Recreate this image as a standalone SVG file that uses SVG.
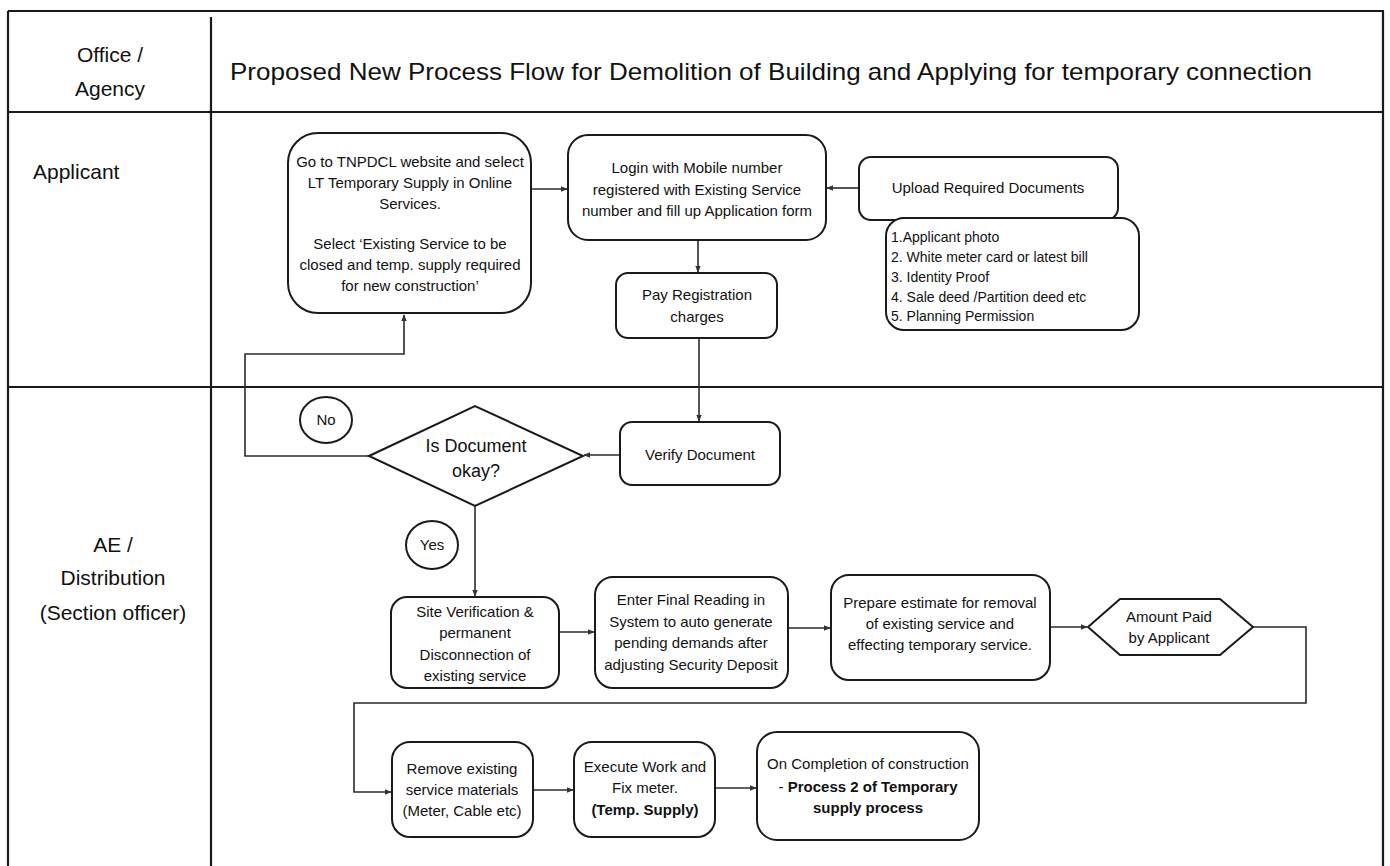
<svg xmlns="http://www.w3.org/2000/svg" width="1390" height="866" viewBox="0 0 1390 866">
<defs>
<style>
.frame{stroke:#1a1a1a;stroke-width:2.2;fill:none}
.box{fill:#fff;stroke:#1a1a1a;stroke-width:2}
.conn{fill:none;stroke:#2a2a2a;stroke-width:1.6}
.t{font-family:"Liberation Sans",Arial,sans-serif;font-size:15px;fill:#111;text-anchor:middle}
.b{font-weight:bold}
.lane{font-family:"Liberation Sans",Arial,sans-serif;font-size:21px;fill:#111;text-anchor:middle}
.doc{font-family:"Liberation Sans",Arial,sans-serif;font-size:14px;fill:#111}
</style>
<marker id="arr" viewBox="0 0 10 10" refX="9" refY="5" markerWidth="7" markerHeight="7" orient="auto" markerUnits="userSpaceOnUse">
<path d="M0,1 L10,5 L0,9 z" fill="#333"/>
</marker>
</defs>
<rect width="1390" height="866" fill="#fff"/>

<g id="frame">
<line class="frame" x1="8" y1="11" x2="1384" y2="11"/>
<line class="frame" x1="8" y1="11" x2="8" y2="866"/>
<line class="frame" x1="1383" y1="11" x2="1383" y2="866"/>
<line class="frame" x1="211" y1="17" x2="211" y2="866"/>
<line class="frame" x1="8" y1="112" x2="1384" y2="112"/>
<line class="frame" x1="8" y1="387" x2="1384" y2="387"/>
<text class="lane" x="110" y="62">Office /</text>
<text class="lane" x="110" y="96">Agency</text>
<text class="lane" x="230" y="80" style="font-size:24px;text-anchor:start" textLength="1082" lengthAdjust="spacingAndGlyphs">Proposed New Process Flow for Demolition of Building and Applying for temporary connection</text>
<text class="lane" x="33" y="179" style="text-anchor:start">Applicant</text>
<text class="lane" x="113" y="552">AE /</text>
<text class="lane" x="113" y="585">Distribution</text>
<text class="lane" x="113" y="620">(Section officer)</text>
</g>

<g id="connectors">
<line class="conn" x1="531" y1="189" x2="567" y2="189" marker-end="url(#arr)"/>
<line class="conn" x1="859" y1="188" x2="827" y2="188" marker-end="url(#arr)"/>
<line class="conn" x1="698" y1="240" x2="698" y2="272" marker-end="url(#arr)"/>
<line class="conn" x1="699" y1="338" x2="699" y2="421" marker-end="url(#arr)"/>
<line class="conn" x1="620" y1="455" x2="584" y2="455" marker-end="url(#arr)"/>
<path class="conn" d="M369,456 H245 V354 H404 V315" marker-end="url(#arr)"/>
<line class="conn" x1="475" y1="506" x2="475" y2="596" marker-end="url(#arr)"/>
<line class="conn" x1="559" y1="632" x2="594" y2="632" marker-end="url(#arr)"/>
<line class="conn" x1="788" y1="628" x2="830" y2="628" marker-end="url(#arr)"/>
<line class="conn" x1="1050" y1="627" x2="1087" y2="627" marker-end="url(#arr)"/>
<path class="conn" d="M1253,627 H1306 V703 H354 V792 H391" marker-end="url(#arr)"/>
<line class="conn" x1="533" y1="790" x2="573" y2="790" marker-end="url(#arr)"/>
<line class="conn" x1="715" y1="788" x2="756" y2="788" marker-end="url(#arr)"/>
</g>

<g id="go-website">
<rect class="box" x="288" y="133" width="243" height="180" rx="30"/>
<text class="t" x="410" y="167">Go to TNPDCL website and select</text>
<text class="t" x="410" y="188">LT Temporary Supply in Online</text>
<text class="t" x="410" y="209">Services.</text>
<text class="t" x="410" y="249">Select ‘Existing Service to be</text>
<text class="t" x="410" y="270">closed and temp. supply required</text>
<text class="t" x="410" y="291">for new construction’</text>
</g>

<g id="login">
<rect class="box" x="568" y="135" width="258" height="105" rx="20"/>
<text class="t" x="697" y="173">Login with Mobile number</text>
<text class="t" x="697" y="195">registered with Existing Service</text>
<text class="t" x="697" y="216">number and fill up Application form</text>
</g>

<g id="upload">
<rect class="box" x="859" y="157" width="259" height="63" rx="12"/>
<text class="t" x="988" y="193">Upload Required Documents</text>
</g>

<g id="documents">
<rect class="box" x="886" y="218" width="253" height="112" rx="18"/>
<text class="doc" x="891" y="242">1.Applicant photo</text>
<text class="doc" x="891" y="262">2. White meter card or latest bill</text>
<text class="doc" x="891" y="282">3. Identity Proof</text>
<text class="doc" x="891" y="302">4. Sale deed /Partition deed etc</text>
<text class="doc" x="891" y="321">5. Planning Permission</text>
</g>

<g id="pay">
<rect class="box" x="616" y="273" width="161" height="65" rx="12"/>
<text class="t" x="697" y="300">Pay Registration</text>
<text class="t" x="697" y="322">charges</text>
</g>

<g id="verify">
<rect class="box" x="620" y="422" width="160" height="63" rx="12"/>
<text class="t" x="700" y="460">Verify Document</text>
</g>

<g id="decision">
<polygon class="box" points="369,456 475,406 583,456 475,506"/>
<text class="t" x="476" y="452" style="font-size:18px">Is Document</text>
<text class="t" x="476" y="477" style="font-size:18px">okay?</text>
</g>

<g id="no-label">
<ellipse class="box" cx="326" cy="420" rx="26" ry="23"/>
<text class="t" x="326" y="425">No</text>
</g>

<g id="yes-label">
<ellipse class="box" cx="432" cy="545" rx="26" ry="24"/>
<text class="t" x="432" y="550">Yes</text>
</g>

<g id="site-verification">
<rect class="box" x="391" y="597" width="168" height="91" rx="16"/>
<text class="t" x="475" y="617">Site Verification &amp;</text>
<text class="t" x="475" y="638">permanent</text>
<text class="t" x="475" y="660">Disconnection of</text>
<text class="t" x="475" y="681">existing service</text>
</g>

<g id="final-reading">
<rect class="box" x="595" y="577" width="193" height="111" rx="18"/>
<text class="t" x="691" y="605">Enter Final Reading in</text>
<text class="t" x="691" y="627">System to auto generate</text>
<text class="t" x="691" y="648">pending demands after</text>
<text class="t" x="691" y="670">adjusting Security Deposit</text>
</g>

<g id="estimate">
<rect class="box" x="831" y="575" width="219" height="105" rx="18"/>
<text class="t" x="940" y="608">Prepare estimate for removal</text>
<text class="t" x="940" y="629">of existing service and</text>
<text class="t" x="940" y="650">effecting temporary service.</text>
</g>

<g id="amount-paid">
<polygon class="box" points="1088,627 1120,599 1220,599 1253,627 1220,655 1120,655"/>
<text class="t" x="1169" y="622">Amount Paid</text>
<text class="t" x="1169" y="643">by Applicant</text>
</g>

<g id="remove-materials">
<rect class="box" x="392" y="742" width="141" height="95" rx="18"/>
<text class="t" x="462" y="774">Remove existing</text>
<text class="t" x="462" y="795">service materials</text>
<text class="t" x="462" y="816">(Meter, Cable etc)</text>
</g>

<g id="execute-work">
<rect class="box" x="574" y="742" width="141" height="95" rx="18"/>
<text class="t" x="645" y="772">Execute Work and</text>
<text class="t" x="645" y="793">Fix meter.</text>
<text class="t b" x="645" y="815">(Temp. Supply)</text>
</g>

<g id="completion">
<rect class="box" x="757" y="732" width="222" height="108" rx="20"/>
<text class="t" x="868" y="769">On Completion of construction</text>
<text class="t" x="868" y="792">-  <tspan class="b">Process 2 of Temporary</tspan></text>
<text class="t b" x="868" y="813">supply process</text>
</g>
</svg>
